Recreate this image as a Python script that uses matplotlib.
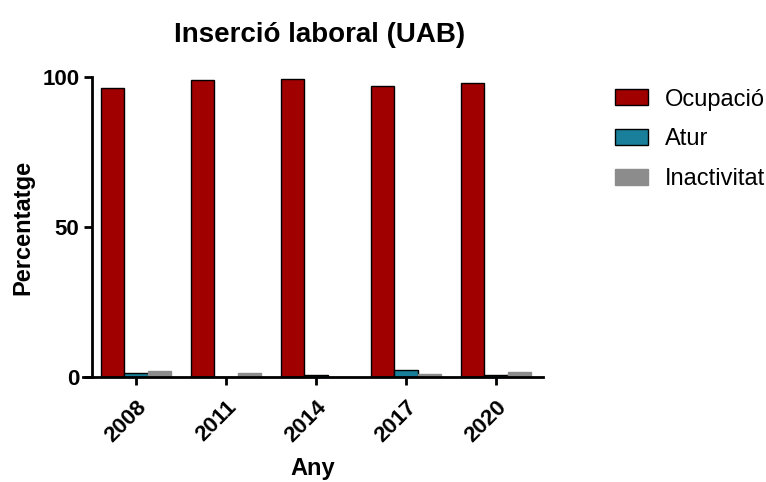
import matplotlib
matplotlib.use("Agg")
import matplotlib.pyplot as plt
import numpy as np

years = ["2008", "2011", "2014", "2017", "2020"]
ocupacio = [96.4, 99.0, 99.2, 97.1, 97.9]
atur = [1.5, 0.0, 0.8, 2.3, 0.6]
inactivitat = [2.1, 1.3, 0.0, 1.0, 1.8]
series_names = ["Ocupació", "Atur", "Inactivitat"]
colors = ["#A00000", "#1A7F9A", "#8C8C8C"]
edges = ["black", "black", "#8C8C8C"]

plt.rcParams['font.family'] = ['Liberation Sans', 'DejaVu Sans']

fig = plt.figure(figsize=(7.66, 4.82), dpi=100)
ax = fig.add_axes([83/766, 1-377/482, (543-83)/766, 300/482])

x = np.arange(len(years))
w = 0.26
for i, (vals, name) in enumerate(zip([ocupacio, atur, inactivitat], series_names)):
    ax.bar(x + (i-1)*w, vals, w, color=colors[i], edgecolor=edges[i], linewidth=1.0, label=name)

ax.set_xlim(-0.59, 4.52)
ax.set_ylim(0, 100)
ax.spines['top'].set_visible(False)
ax.spines['right'].set_visible(False)
ax.spines['left'].set_position(('data', -0.49))
ax.spines['left'].set_linewidth(2)
ax.spines['bottom'].set_linewidth(2)
ax.set_yticks([0, 50, 100])
ax.set_xticks(x)
ax.set_xticklabels(years, rotation=45, ha='right', rotation_mode='anchor', fontsize=16, fontweight='bold')
for lab in ax.get_yticklabels():
    lab.set_fontsize(16)
    lab.set_fontweight('bold')
ax.tick_params(axis='y', width=2, length=6, pad=3)
ax.tick_params(axis='x', width=2, length=6, pad=8)
ax.set_ylabel("Percentatge", fontsize=17, fontweight='bold', labelpad=6)
ax.set_xlabel("Any", fontsize=17, fontweight='bold', labelpad=8)
ax.set_title("Inserció laboral (UAB)", fontsize=20, fontweight='bold', pad=25, x=0.515)

ax.legend(loc='upper left', bbox_to_anchor=(1.135, 0.993), frameon=False, fontsize=17,
          handlelength=1.4, handleheight=0.65, labelspacing=0.76, handletextpad=0.75,
          borderaxespad=0)

fig.savefig("out.png", dpi=100)
